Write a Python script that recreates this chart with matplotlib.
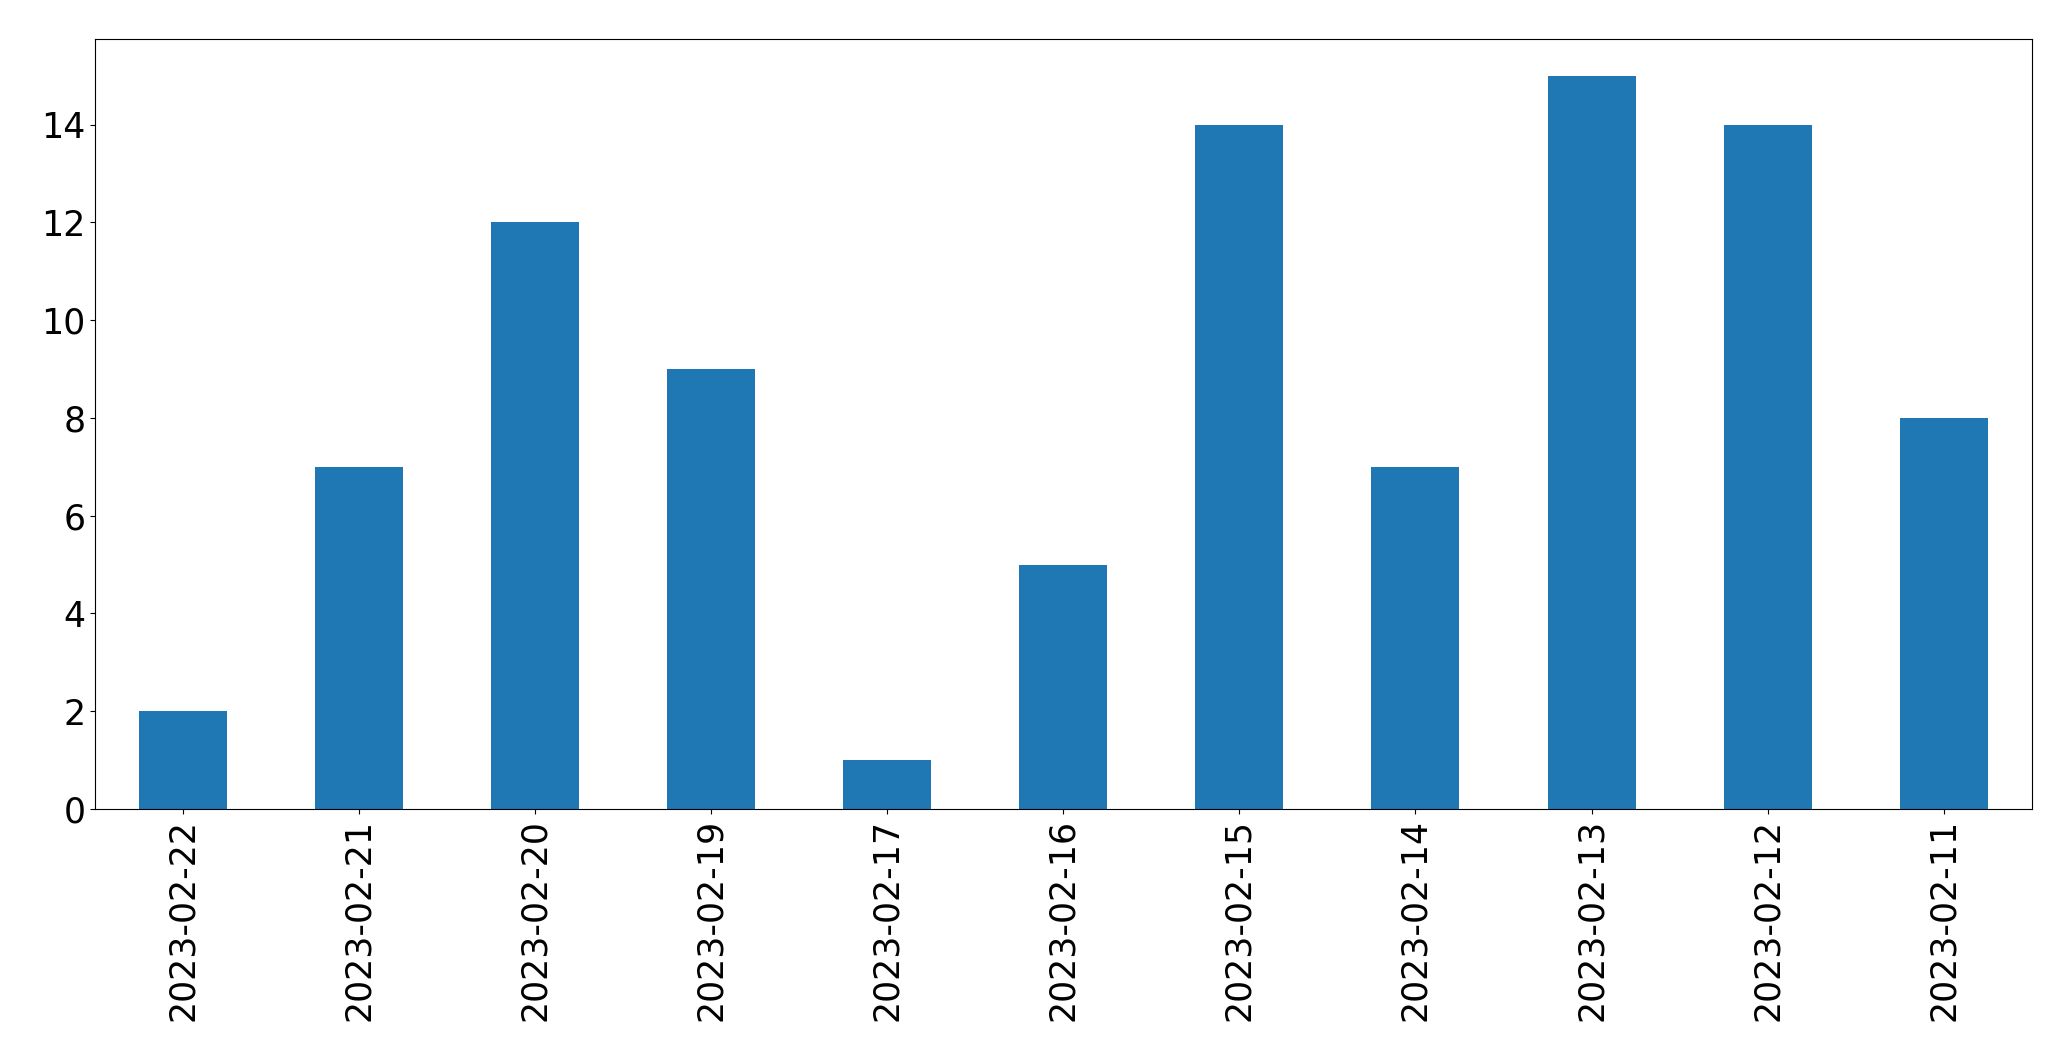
import matplotlib
matplotlib.use("Agg")
from matplotlib import pyplot as plt
import numpy as np

# daily counts, in the order shown
dates = ["2023-02-22", "2023-02-21", "2023-02-20", "2023-02-19", "2023-02-17",
         "2023-02-16", "2023-02-15", "2023-02-14", "2023-02-13", "2023-02-12",
         "2023-02-11"]
counts = [2, 7, 12, 9, 1, 5, 14, 7, 15, 14, 8]

fig = plt.figure(figsize=(20.71, 10.61), dpi=100)
ax = fig.add_axes([0.0459, 0.2375, 0.981 - 0.0459, 0.9632 - 0.2375])

x = np.arange(len(dates))
ax.bar(x, counts, width=0.5, color="#1f77b4")
ax.set_xlim(-0.5, len(dates) - 0.5)
ax.set_ylim(0, max(counts) * 1.05)
ax.set_xticks(x)
ax.set_xticklabels(dates, rotation=90)
ax.tick_params(axis="both", labelsize=25)

fig.savefig("out.png", dpi=100)
